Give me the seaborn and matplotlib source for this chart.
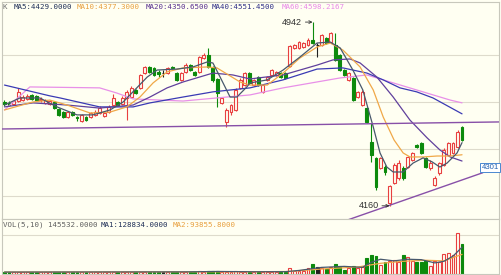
import matplotlib
matplotlib.use("Agg")
import matplotlib.pyplot as plt
import seaborn as sns
import numpy as np

# ---------------- data ----------------
opens = [4602, 4598, 4593, 4606, 4610, 4615, 4632, 4628, 4610, 4598,
         4593, 4602, 4572, 4559, 4538, 4559, 4538, 4521, 4538, 4538,
         4547, 4555, 4542, 4559, 4589, 4602, 4593, 4619, 4623, 4653,
         4662, 4725, 4751, 4747, 4730, 4725, 4725, 4751, 4725, 4696,
         4730, 4759, 4730, 4730, 4789, 4802, 4747, 4700, 4598, 4517,
         4559, 4568, 4662, 4674, 4725, 4674, 4708, 4645, 4696, 4717,
         4717, 4725, 4725, 4755, 4832, 4832, 4836, 4845, 4866, 4845,
         4845, 4874, 4857, 4845, 4802, 4738, 4696, 4704, 4623, 4589,
         4576, 4432, 4364, 4321, 4325, 4172, 4257, 4279, 4321, 4325,
         4355, 4419, 4427, 4364, 4321, 4249, 4300, 4334, 4377, 4385,
         4411, 4496]
closes = [4593, 4589, 4606, 4645, 4623, 4628, 4615, 4610, 4615, 4610,
          4606, 4576, 4547, 4538, 4559, 4547, 4534, 4547, 4525, 4555,
          4559, 4576, 4555, 4581, 4619, 4589, 4619, 4645, 4662, 4640,
          4717, 4751, 4730, 4717, 4721, 4725, 4747, 4747, 4696, 4725,
          4759, 4738, 4717, 4793, 4802, 4751, 4696, 4640, 4619, 4568,
          4589, 4653, 4696, 4725, 4683, 4696, 4674, 4674, 4708, 4738,
          4730, 4708, 4704, 4840, 4845, 4857, 4853, 4866, 4853, 4845,
          4887, 4853, 4896, 4781, 4738, 4717, 4725, 4610, 4645, 4645,
          4517, 4377, 4240, 4364, 4304, 4245, 4334, 4342, 4279, 4368,
          4385, 4411, 4385, 4325, 4342, 4279, 4342, 4398, 4427, 4427,
          4474, 4440]
highs = [4610, 4606, 4610, 4662, 4632, 4636, 4636, 4632, 4623, 4615,
         4610, 4606, 4576, 4564, 4564, 4564, 4542, 4551, 4542, 4559,
         4568, 4585, 4559, 4589, 4636, 4606, 4628, 4653, 4670, 4657,
         4721, 4755, 4755, 4751, 4738, 4738, 4751, 4755, 4730, 4730,
         4768, 4764, 4734, 4798, 4810, 4832, 4755, 4704, 4623, 4576,
         4593, 4662, 4704, 4730, 4730, 4700, 4713, 4679, 4713, 4742,
         4734, 4730, 4730, 4845, 4849, 4861, 4857, 4874, 4942, 4853,
         4891, 4879, 4900, 4896, 4806, 4742, 4730, 4708, 4649, 4653,
         4581, 4513, 4368, 4368, 4334, 4249, 4342, 4355, 4330, 4372,
         4389, 4423, 4432, 4368, 4355, 4287, 4347, 4406, 4432, 4432,
         4483, 4500]
lows = [4585, 4585, 4589, 4602, 4606, 4610, 4610, 4606, 4602, 4593,
        4589, 4572, 4542, 4534, 4534, 4542, 4521, 4517, 4521, 4534,
        4542, 4551, 4538, 4555, 4585, 4585, 4589, 4525, 4619, 4636,
        4657, 4721, 4725, 4713, 4708, 4708, 4721, 4742, 4691, 4691,
        4725, 4734, 4713, 4725, 4785, 4747, 4687, 4581, 4593, 4496,
        4547, 4564, 4657, 4670, 4679, 4670, 4670, 4640, 4691, 4713,
        4713, 4704, 4700, 4751, 4828, 4828, 4832, 4840, 4849, 4793,
        4840, 4849, 4853, 4776, 4734, 4713, 4691, 4606, 4619, 4585,
        4513, 4347, 4227, 4317, 4291, 4160, 4253, 4270, 4270, 4321,
        4351, 4406, 4381, 4321, 4313, 4245, 4291, 4330, 4372, 4381,
        4406, 4436]
volumes = [7000, 6000, 6500, 9000, 7000, 6500, 6000, 6000, 5500, 6000,
           6500, 7000, 8000, 7000, 6500, 6000, 6000, 7000, 6000, 6500,
           6000, 6500, 6000, 6500, 8000, 6000, 6500, 9000, 8000, 6500,
           9000, 8500, 7000, 6500, 6000, 6000, 6500, 6000, 7000, 6500,
           7500, 7000, 9000, 11000, 9000, 12000, 11000, 12000, 8000, 9000,
           8000, 10000, 9000, 8000, 8000, 7000, 7500, 7000, 7500, 8000,
           7000, 8000, 8500, 25000, 13000, 13000, 13000, 28000, 48000, 33000,
           28000, 23000, 33000, 48000, 38000, 18000, 28000, 38000, 28000, 33000,
           78000, 92000, 85000, 40000, 55000, 62000, 65000, 55000, 90000, 80000,
           60000, 55000, 55000, 60000, 35000, 60000, 55000, 95000, 100000, 90000,
           200000, 145532]

ma5_x = [0, 3.4, 7.8, 11.6, 16, 19.5, 23.3, 26.2, 29.2, 31.5, 33.7, 38.1, 41.6, 44.7,
         46, 47.6, 49.8, 51.3, 53.5, 54.2, 58, 61.5, 65.2, 69, 71.9, 74.1, 76.9, 79.1,
         81.4, 82.9, 84.4, 85.8, 88, 90.2, 92.4, 94.4, 96.1, 97.7, 99.9, 101]
ma5_v = [4589, 4619, 4619, 4581, 4547, 4547, 4568, 4602, 4662, 4708, 4738, 4742, 4751, 4772,
         4768, 4708, 4623, 4623, 4666, 4683, 4696, 4738, 4793, 4853, 4857, 4832, 4738, 4653,
         4496, 4385, 4325, 4304, 4304, 4342, 4364, 4347, 4325, 4342, 4385, 4429]
ma10_x = [0, 6.3, 10, 13.8, 18.9, 23.3, 27, 29.9, 32.8, 35.9, 39.4, 44.7, 46.9, 52, 54.2,
          58, 61.5, 65.2, 69, 71.9, 74.7, 78.5, 81.4, 83.6, 86, 88, 89.5, 92.4, 95.5, 98.4, 101]
ma10_v = [4568, 4602, 4610, 4589, 4555, 4559, 4581, 4623, 4683, 4730, 4747, 4751, 4747, 4687, 4674,
          4674, 4725, 4789, 4836, 4853, 4823, 4751, 4653, 4538, 4440, 4385, 4368, 4368, 4372, 4372, 4377.3]
ma20_x = [0, 6.3, 13.8, 21, 28.4, 32.1, 35.9, 39.4, 46, 50.4, 54.2, 61.5, 69, 72.5, 76.3,
          78.5, 82.2, 85.8, 89.5, 93.3, 96.1, 98.4, 101]
ma20_v = [4581, 4598, 4589, 4576, 4589, 4623, 4662, 4687, 4725, 4717, 4700, 4717, 4759, 4781, 4785,
          4768, 4708, 4623, 4525, 4449, 4398, 4368, 4350.65]
ma40_x = [0, 10, 12.3, 21, 28.4, 32.1, 39.4, 46, 54.2, 61.5, 69, 74.7, 80, 83.6, 87.3, 91, 94.6, 101]
ma40_v = [4674, 4628, 4619, 4581, 4581, 4598, 4623, 4645, 4662, 4696, 4742, 4747, 4725, 4696, 4662,
          4645, 4619, 4551.45]
ma60_x = [0, 5.6, 21, 24.8, 28.4, 39.4, 54.2, 61.5, 74, 80, 83.6, 91, 98.4, 101]
ma60_v = [4568, 4666, 4662, 4640, 4615, 4606, 4632, 4662, 4704, 4717, 4696, 4653, 4610, 4598.22]

vma1_x = [0, 40, 47, 55, 62, 65, 70, 75, 79, 81, 83, 86, 89, 92, 95, 97, 99, 101]
vma1_v = [7000, 8000, 10000, 8500, 9000, 15000, 30000, 35000, 30000, 55000, 70000, 62000,
          70000, 68000, 52000, 60000, 85000, 128834]
vma2_x = [0, 55, 63, 70, 78, 83, 88, 93, 97, 101]
vma2_v = [7000, 8500, 10000, 22000, 32000, 50000, 60000, 65000, 62000, 93855.8]

trend_hi = ([-0.55, 109.2], [4487, 4517])
trend_lo = ([74.0, 105.6], [4088, 4301])
high_mark = (68, 4942)
low_mark = (85, 4160)

header_main = [("K ", "#707070"), ("MA5:4429.0000", "#203058"), ("MA10:4377.3000", "#e8a040"),
               ("MA20:4350.6500", "#583090"), ("MA40:4551.4500", "#303088"), ("MA60:4598.2167", "#e888e8")]
header_vol = [("VOL(5,10) 145532.0000", "#606060"), ("MA1:128834.0000", "#203058"),
              ("MA2:93855.8000", "#e8a040")]

# ---------------- style ----------------
sns.set_theme(style="white")
BG = "#fffff2"
plt.rcParams['font.family'] = ['DejaVu Sans']
UP, DN, DJ = "#e84040", "#0c8a0c", "#202020"
GRID = "#dedbcc"

W, H = 501, 275
fig = plt.figure(figsize=(W / 100, H / 100), dpi=100, facecolor=BG)
fx = lambda p: p / W
fy = lambda p: 1 - p / H
ax = fig.add_axes([fx(2), fy(218.5), fx(499) - fx(2), fy(2) - fy(218.5)])
axv = fig.add_axes([fx(2), fy(273.5), fx(499) - fx(2), fy(218.5) - fy(273.5)])

x0, x1 = -0.55, 109.16
for a in (ax, axv):
    a.set_facecolor(BG)
    a.set_xlim(x0, x1)
    a.set_xticks([])
    a.set_yticks([])
    for s in a.spines.values():
        s.set_color("#c8c8bc")
        s.set_linewidth(0.8)
ax.set_ylim(4106, 5027.5)
axv.set_ylim(0, 270000)

for g in (4800, 4600, 4400, 4200):
    ax.axhline(g, color=GRID, lw=0.8, zorder=0)
axv.axhline(187000, color=GRID, lw=0.8, zorder=0)

n = len(closes)
idx = np.arange(n)
o = np.array(opens, float)
c = np.array(closes, float)
cols = [UP if cc > oo else (DN if cc < oo else DJ) for oo, cc in zip(o, c)]
faces = [BG if col == UP else col for col in cols]

ax.vlines(idx, lows, highs, colors=cols, linewidth=0.8, zorder=2)
bot = np.minimum(o, c)
hgt = np.maximum(np.abs(c - o), 0.8)
ax.bar(idx, hgt, bottom=bot, width=0.64, color=faces, edgecolor=cols, linewidth=0.8, zorder=3)

axv.bar(idx, volumes, width=0.64, color=faces, edgecolor=cols, linewidth=0.8, zorder=2)

ma_specs = [(ma60_x, ma60_v, "#e890e8"), (ma40_x, ma40_v, "#3a3ab4"), (ma20_x, ma20_v, "#60409c"),
            (ma10_x, ma10_v, "#f0a848"), (ma5_x, ma5_v, "#48586c")]
for xs, vs, col in ma_specs:
    sns.lineplot(x=xs, y=vs, ax=ax, color=col, linewidth=0.9, estimator=None, sort=False, zorder=4)
sns.lineplot(x=vma2_x, y=vma2_v, ax=axv, color="#f0a848", linewidth=0.9, estimator=None, sort=False, zorder=4)
sns.lineplot(x=vma1_x, y=vma1_v, ax=axv, color="#48586c", linewidth=0.9, estimator=None, sort=False, zorder=4)

ax.plot(*trend_hi, color="#8850a8", lw=1.0, zorder=5)
ax.plot(*trend_lo, color="#8850a8", lw=1.0, zorder=5, clip_on=True)

ax.annotate(str(high_mark[1]), xy=high_mark, xytext=(high_mark[0] - 2.3, high_mark[1]),
            ha="right", va="center", fontsize=6.5, color="#303030", family="Liberation Sans",
            arrowprops=dict(arrowstyle="->", lw=0.6, color="#303030", shrinkA=0, shrinkB=0,
                            mutation_scale=5), zorder=6)
ax.annotate(str(low_mark[1]), xy=low_mark, xytext=(low_mark[0] - 2.4, low_mark[1]),
            ha="right", va="center", fontsize=6.5, color="#303030", family="Liberation Sans",
            arrowprops=dict(arrowstyle="->", lw=0.6, color="#303030", shrinkA=0, shrinkB=0,
                            mutation_scale=5), zorder=6)
# value label of the lower trend line, drawn in a box at the right edge
ax.text(107.2, trend_lo[1][1] + 22, f"{trend_lo[1][1]}", ha="center", va="center",
        fontsize=5.6, color="#2060b0", family="Liberation Sans", zorder=7, clip_on=False,
        bbox=dict(boxstyle="square,pad=0.18", fc="white", ec="#4a88d0", lw=0.7))

# headers
def header(items, xs, py):
    for (txt, col), px in zip(items, xs):
        fig.text(fx(px), fy(py), txt, color=col, fontsize=5.4, family="DejaVu Sans Mono",
                 ha="left", va="center")

header(header_main, [3, 14, 77, 146, 212, 282], 7)
header(header_vol, [3, 101, 173], 225)

fig.savefig("out.png", dpi=100, facecolor=BG)
